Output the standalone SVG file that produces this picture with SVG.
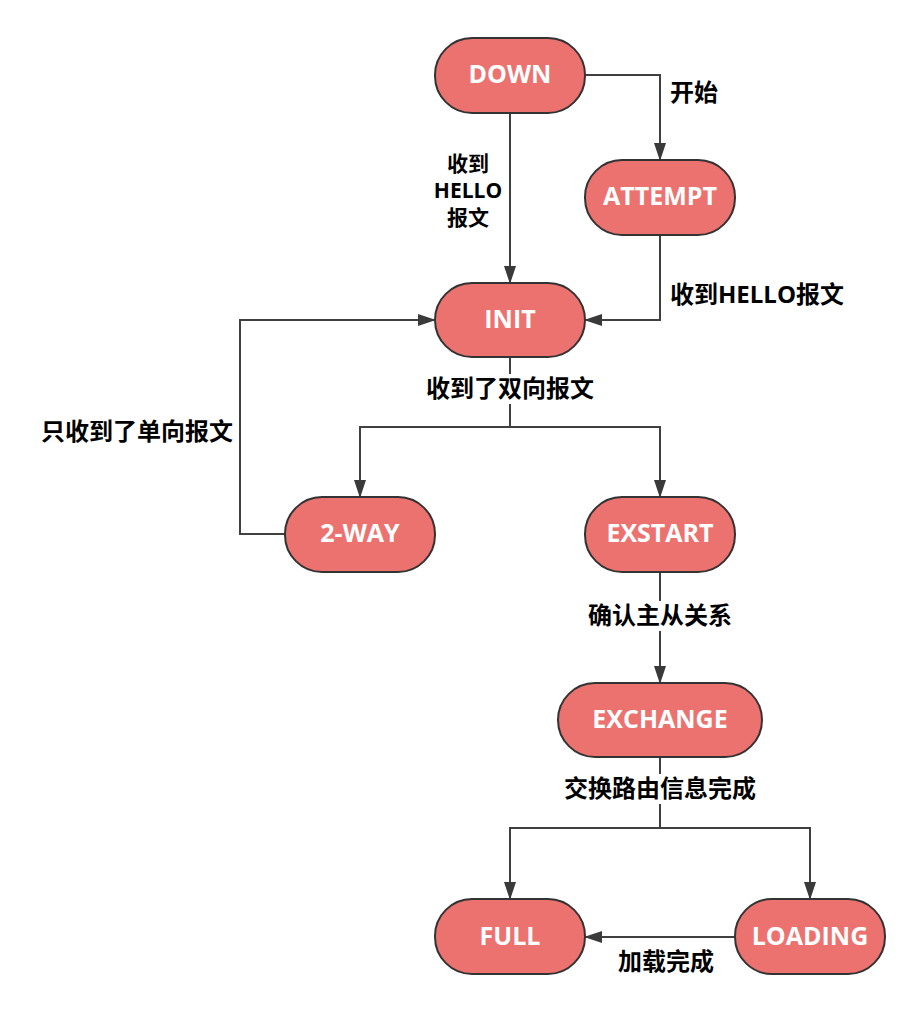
<svg xmlns="http://www.w3.org/2000/svg" width="922" height="1014" viewBox="0 0 922 1014">
<defs>
<marker id="arr" markerWidth="18" markerHeight="12" refX="17" refY="6" orient="auto" markerUnits="userSpaceOnUse" viewBox="0 0 18 12">
<path d="M0,0 L18,6 L0,12 Z" fill="#3a3a3a"/>
</marker>
<style>
.node rect{fill:#EC7270;stroke:#333;stroke-width:2}
.node text{fill:#fff;font-family:"Open Sans","Noto Sans",sans-serif;font-weight:bold;font-size:25px;text-anchor:middle;dominant-baseline:central}
.conn path{fill:none;stroke:#404040;stroke-width:2}
.lbl{fill:#000;font-family:"Open Sans","Noto Sans CJK SC",sans-serif;font-weight:bold;font-size:24px;text-anchor:middle;dominant-baseline:central}
.sm{font-size:21px}
.bg{fill:#fff}
</style>
</defs>
<rect width="922" height="1014" fill="#fff"/>
<g id="connectors" class="conn">
<path d="M585,75 H660 V160" marker-end="url(#arr)"/>
<path d="M510,113 V283" marker-end="url(#arr)"/>
<path d="M660,235 V320 H585" marker-end="url(#arr)"/>
<path d="M285,534 H240 V320 H435" marker-end="url(#arr)"/>
<path d="M510,357 V427 H360 V497" marker-end="url(#arr)"/>
<path d="M510,427 H660 V497" marker-end="url(#arr)"/>
<path d="M660,572 V683" marker-end="url(#arr)"/>
<path d="M660,757 V828 H510 V899" marker-end="url(#arr)"/>
<path d="M660,828 H810 V899" marker-end="url(#arr)"/>
<path d="M735,937 H585" marker-end="url(#arr)"/>
</g>
<g id="labels">
<text class="lbl" x="694" y="91">开始</text>
<text class="lbl sm" x="468" y="163">收到</text>
<text class="lbl sm" x="468" y="190">HELLO</text>
<text class="lbl sm" x="468" y="217">报文</text>
<text class="lbl" x="757" y="293">收到HELLO报文</text>
<text class="lbl" x="137" y="430">只收到了单向报文</text>
<rect class="bg" x="420" y="374" width="180" height="30"/>
<text class="lbl" x="510" y="387">收到了双向报文</text>
<rect class="bg" x="584" y="601" width="152" height="30"/>
<text class="lbl" x="660" y="614">确认主从关系</text>
<rect class="bg" x="560" y="774" width="200" height="30"/>
<text class="lbl" x="660" y="787">交换路由信息完成</text>
<text class="lbl" x="666" y="960">加载完成</text>
</g>
<g id="node-down" class="node"><rect x="435" y="38" width="150" height="75" rx="37" ry="37"/><text x="510" y="73">DOWN</text></g>
<g id="node-attempt" class="node"><rect x="585" y="160" width="150" height="75" rx="37" ry="37"/><text x="660" y="195">ATTEMPT</text></g>
<g id="node-init" class="node"><rect x="435" y="283" width="150" height="74" rx="37" ry="37"/><text x="510" y="318">INIT</text></g>
<g id="node-2way" class="node"><rect x="285" y="497" width="150" height="75" rx="37" ry="37"/><text x="360" y="532">2-WAY</text></g>
<g id="node-exstart" class="node"><rect x="585" y="497" width="150" height="75" rx="37" ry="37"/><text x="660" y="532">EXSTART</text></g>
<g id="node-exchange" class="node"><rect x="558" y="683" width="204" height="74" rx="37" ry="37"/><text x="660" y="718">EXCHANGE</text></g>
<g id="node-full" class="node"><rect x="435" y="899" width="150" height="75" rx="37" ry="37"/><text x="510" y="935">FULL</text></g>
<g id="node-loading" class="node"><rect x="735" y="899" width="150" height="75" rx="37" ry="37"/><text x="810" y="935">LOADING</text></g>
</svg>
